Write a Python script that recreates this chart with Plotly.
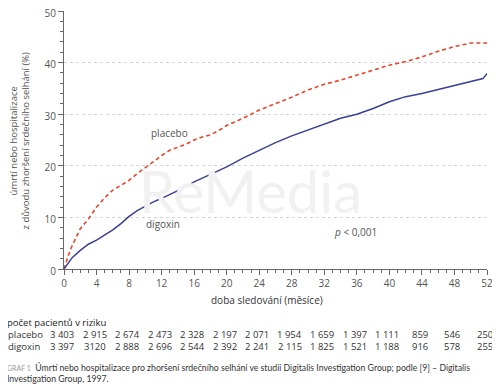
import plotly.graph_objects as go

# ---- data ----
placebo_months = [0, 0.5, 1, 1.5, 2, 3, 4, 5, 6, 7, 8, 9, 10, 11, 12, 13, 14, 15, 16, 17, 18, 19, 20,
                  22, 24, 26, 28, 30, 32, 34, 36, 38, 40, 42, 44, 46, 48, 50, 52]
placebo_pct = [0, 2.5, 4.5, 6.3, 7.8, 9.7, 12.0, 13.8, 15.3, 16.2, 17.2, 18.5, 19.6, 20.8, 22.0, 23.0,
               23.6, 24.2, 25.0, 25.6, 26.0, 26.8, 27.8, 29.2, 30.8, 32.0, 33.3, 34.7, 35.8, 36.6,
               37.6, 38.6, 39.5, 40.2, 41.1, 42.2, 43.1, 43.8, 43.8]
digoxin_months = [0, 1, 2, 3, 4, 5, 6, 7, 8, 9, 10, 11, 12, 13, 14, 15, 16, 17, 18, 20, 22, 24, 26,
                  28, 30, 32, 34, 36, 38, 40, 42, 44, 46, 48, 50, 51.5, 52]
digoxin_pct = [0, 2.2, 3.6, 4.8, 5.6, 6.6, 7.6, 8.8, 10.2, 11.3, 12.2, 13.0, 13.7, 14.4, 15.2, 16.0,
               16.9, 17.6, 18.3, 19.8, 21.5, 23.0, 24.5, 25.8, 26.9, 28.0, 29.2, 30.0, 31.1, 32.4,
               33.4, 34.0, 34.8, 35.6, 36.3, 36.9, 37.9]

risk_months = [0, 4, 8, 12, 16, 20, 24, 28, 32, 36, 40, 44, 48, 52]
risk_placebo = ["3 403", "2 915", "2 674", "2 473", "2 328", "2 197", "2 071", "1 954", "1 659",
                "1 397", "1 111", "859", "546", "250"]
risk_digoxin = ["3 397", "3120", "2 888", "2 696", "2 544", "2 392", "2 241", "2 115", "1 825",
                "1 521", "1 188", "916", "578", "255"]

x_ticks = list(range(0, 53, 4))
y_ticks = [0, 10, 20, 30, 40, 50]

FONT = "Open Sans"
GRAY = "#555555"

# the page body has an 8px margin, so the figure starts at (8, 8) of the window
OFF = 8
W, H = 500 - OFF, 390 - OFF
# plot area in window pixels
L, R, T, B = 64, 487, 11, 269


def px(x):
    return (x - L) / (R - L)


def py(y):
    return (B - y) / (B - T)


def label(x, y, text, size=10, color=GRAY, family=FONT, xanchor="center", **kw):
    return dict(x=px(x), y=py(y), xref="paper", yref="paper", text=text, showarrow=False,
                xanchor=xanchor, yanchor="middle",
                font=dict(family=family, size=size, color=color), **kw)


fig = go.Figure()
fig.add_trace(go.Scatter(x=placebo_months, y=placebo_pct, mode="lines",
                         line=dict(color="#e8452c", width=1.6, dash="4px,3px"),
                         showlegend=False, hoverinfo="skip"))
fig.add_trace(go.Scatter(x=digoxin_months, y=digoxin_pct, mode="lines",
                         line=dict(color="#3a3f9a", width=1.5),
                         showlegend=False, hoverinfo="skip"))

ann = []
# watermark
ann.append(label(250, 190, "ReMedia", size=58, color="#f1f1f1", family="Lato"))
# curve labels
ann.append(label(169, 133, "placebo"))
ann.append(label(163, 224, "digoxin"))
ann.append(label(355, 232, "<i>p</i> < 0,001"))
# y title
ann.append(label(18.5, 141, "úmrtí nebo hospitalizace<br>z důvodu zhoršení srdečního selhání (%)",
                 size=9.5, textangle=-90))
# x title
ann.append(label(267, 300, "doba sledování (měsíce)", color="#333333"))
# risk table
ann.append(label(5, 322, "počet pacientů v riziku", size=9.5, color="#222222", xanchor="left"))
ann.append(label(6, 334, "placebo", size=9.5, color="#333333", xanchor="left"))
ann.append(label(6, 346, "digoxin", size=9.5, color="#333333", xanchor="left"))
for m, a, b in zip(risk_months, risk_placebo, risk_digoxin):
    for yy, t in ((334, a), (346, b)):
        ann.append(dict(x=m, y=py(yy), xref="x", yref="paper", text=t, showarrow=False,
                        xanchor="center", yanchor="middle", xshift=-2,
                        font=dict(family=FONT, size=9.5, color="#333333")))
# caption
ann.append(label(5, 373,
                 '<span style="font-size:7px;color:#9a9a9a">GRAF 1</span>  '
                 'Úmrtí nebo hospitalizace pro zhoršení srdečního selhání ve studii Digitalis '
                 'Investigation Group; podle [9] – Digitalis<br>Investigation Group, 1997.',
                 size=8.7, color="#333333", family="Lato", xanchor="left", align="left"))

fig.update_layout(
    width=W, height=H,
    margin=dict(l=L - OFF, r=500 - R, t=T - OFF, b=390 - B, pad=0, autoexpand=False),
    paper_bgcolor="white", plot_bgcolor="white",
    annotations=ann,
    xaxis=dict(range=[0, 52], tickvals=x_ticks, showgrid=False, zeroline=False,
               showline=True, linecolor="#666666", linewidth=1, automargin=False,
               ticks="outside", ticklen=5, tickcolor="#666666", tickwidth=1,
               ticklabeloverflow="allow",
               minor=dict(dtick=1, ticks="outside", ticklen=3, tickcolor="#666666", showgrid=False),
               tickfont=dict(family=FONT, size=10, color=GRAY), fixedrange=True),
    yaxis=dict(range=[0, 50], tickvals=y_ticks, showgrid=True, gridcolor="#d6d6d6",
               griddash="dot", gridwidth=1, zeroline=False, automargin=False,
               showline=True, linecolor="#666666", linewidth=1,
               ticks="outside", ticklen=5, tickcolor="#666666", tickwidth=1,
               ticklabeloverflow="allow", ticklabelshift=2,
               minor=dict(dtick=2, ticks="outside", ticklen=3, tickcolor="#666666", showgrid=False),
               tickfont=dict(family=FONT, size=10, color=GRAY), fixedrange=True),
)

fig.write_html("out.html")
